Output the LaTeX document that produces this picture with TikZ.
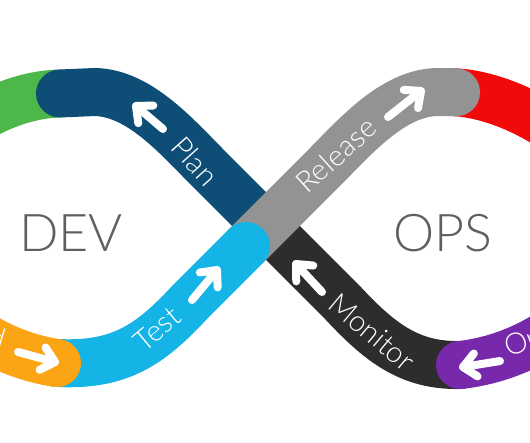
\documentclass[tikz,border=0pt]{standalone}
\usepackage{fontspec}
\setmainfont{Lato}
\newfontfamily\thinfont{Lato Light}
\usetikzlibrary{calc}

\definecolor{codecol}{RGB}{77,183,73}
\definecolor{plancol}{RGB}{14,78,118}
\definecolor{releasecol}{RGB}{147,147,147}
\definecolor{deploycol}{RGB}{240,10,10}
\definecolor{operatecol}{RGB}{120,40,170}
\definecolor{monitorcol}{RGB}{45,45,45}
\definecolor{testcol}{RGB}{20,180,230}
\definecolor{buildcol}{RGB}{251,165,20}
\definecolor{wordcol}{RGB}{95,95,95}

\tikzset{
  band/.style={line width=36pt, line cap=round},
  flowarrow/.style={white, line width=6pt, line cap=round, line join=round},
  bandlabel/.style={text=white, inner sep=0.75pt, font=\thinfont\fontsize{22}{25}\selectfont},
  bigword/.style={text=wordcol, inner sep=0.75pt, font=\thinfont\fontsize{39}{44}\selectfont}
}

\begin{document}
\begin{tikzpicture}[x=0.75pt,y=0.75pt,yscale=-1,xscale=1]
\useasboundingbox (0,0) rectangle (530,442);
\clip (0,0) rectangle (530,442);
\fill[white] (0,0) rectangle (530,442);

%Curve Lines: code (green)
\draw[band, codecol] (60,93.5) .. controls (-10,95) and (-95,155) .. (-95,229);
%Curve Lines: deploy (red)
\draw[band, deploycol] (456,92.3) .. controls (525,97) and (620,160) .. (620,229);
%Curve Lines: plan
\draw[band, plancol] (266,226) -- (210,170) .. controls (178,138) and (140,93) .. (95,92) -- (60,93.5);
%Curve Lines: monitor
\draw[band, monitorcol] (460,365) .. controls (410,366) and (380,343) .. (342,302) -- (266,226);
%Curve Lines: release
\draw[band, releasecol] (246,246) -- (322,170) .. controls (354,138) and (392,93) .. (437,92) -- (456,92.3);
%Curve Lines: test
\draw[band, testcol] (57,363) .. controls (120,366) and (150,345) .. (190,302) -- (246,246);
%Curve Lines: build
\draw[band, buildcol] (-95,229) .. controls (-95,280) and (-30,350) .. (57,363);
%Curve Lines: operate
\draw[band, operatecol] (620,229) .. controls (620,285) and (550,355) .. (460,365);

%Shape: arrows on the bands
\draw[flowarrow] (163,129) -- (136,106);
\draw[flowarrow] ($(136,106)!13pt!42:(163,129)$) -- (136,106) -- ($(136,106)!13pt!-42:(163,129)$);
\draw[flowarrow] (388,117) -- (421,91);
\draw[flowarrow] ($(421,91)!13pt!42:(388,117)$) -- (421,91) -- ($(421,91)!13pt!-42:(388,117)$);
\draw[flowarrow] (192,300) -- (217,270);
\draw[flowarrow] ($(217,270)!13pt!42:(192,300)$) -- (217,270) -- ($(217,270)!13pt!-42:(192,300)$);
\draw[flowarrow] (322,292) -- (296,264);
\draw[flowarrow] ($(296,264)!13pt!42:(322,292)$) -- (296,264) -- ($(296,264)!13pt!-42:(322,292)$);
\draw[flowarrow] (500,361) -- (463,367);
\draw[flowarrow] ($(463,367)!13pt!42:(500,361)$) -- (463,367) -- ($(463,367)!13pt!-42:(500,361)$);
\draw[flowarrow] (18,352) -- (55,362);
\draw[flowarrow] ($(55,362)!13pt!42:(18,352)$) -- (55,362) -- ($(55,362)!13pt!-42:(18,352)$);

% Text Node
\node[bandlabel, rotate=-48] (plan) at (195,161) {Plan};
\node[bandlabel, rotate=42] (release) at (336,155) {Release};
\node[bandlabel, rotate=40] (test) at (157,329) {Test};
\node[bandlabel, rotate=-40] (monitor) at (372,332) {Monitor};
\node[bandlabel, rotate=22, anchor=west] (operate) at (505,351) {Operate};
\node[bandlabel, rotate=-17, anchor=east] (build) at (6,340) {Build};
% Text Node
\node[bigword] (dev) at (71,233) {DEV};
\node[bigword] (ops) at (443,233) {OPS};

\end{tikzpicture}
\end{document}
